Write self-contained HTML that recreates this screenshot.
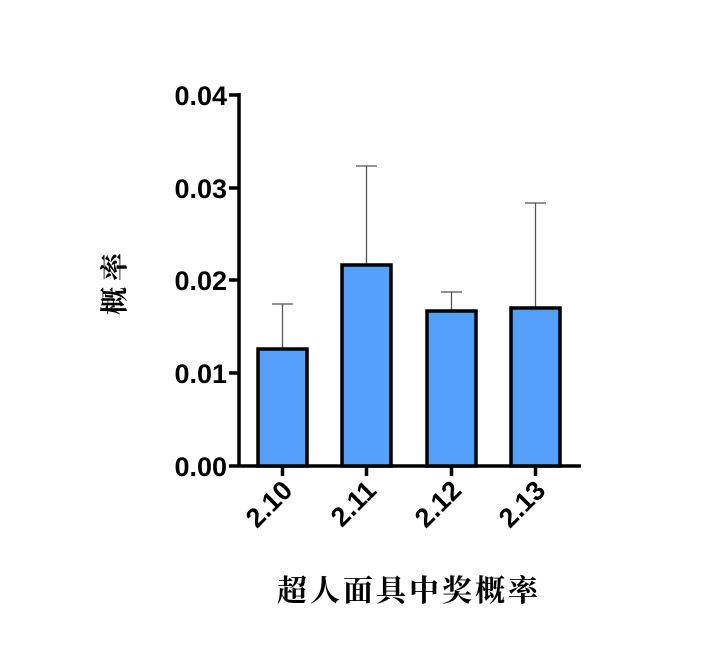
<!DOCTYPE html>
<html><head><meta charset="utf-8"><style>body{margin:0;background:#fff}</style></head>
<body>
<svg width="720" height="662" xmlns="http://www.w3.org/2000/svg">
<rect width="720" height="662" fill="#fff"/>
<g stroke="#000" stroke-width="3.5" fill="none">
<line x1="239" y1="93" x2="239" y2="467"/>
<line x1="229" y1="466" x2="581" y2="466"/>
<line x1="229" y1="95" x2="239" y2="95"/>
<line x1="229" y1="188" x2="239" y2="188"/>
<line x1="229" y1="280" x2="239" y2="280"/>
<line x1="229" y1="373" x2="239" y2="373"/>
<line x1="282.5" y1="466" x2="282.5" y2="476"/>
<line x1="366.5" y1="466" x2="366.5" y2="476"/>
<line x1="451.5" y1="466" x2="451.5" y2="476"/>
<line x1="535.5" y1="466" x2="535.5" y2="476"/>
</g>
<g stroke="#555" stroke-width="1.3">
<line x1="282.5" y1="349" x2="282.5" y2="304"/><line x1="272" y1="304" x2="293" y2="304"/>
<line x1="366.5" y1="265" x2="366.5" y2="166"/><line x1="356" y1="166" x2="377" y2="166"/>
<line x1="451.5" y1="311" x2="451.5" y2="292"/><line x1="441" y1="292" x2="462" y2="292"/>
<line x1="535.5" y1="308" x2="535.5" y2="203"/><line x1="525" y1="203" x2="546" y2="203"/>
</g>
<g fill="#539ffa" stroke="#000" stroke-width="3.5">
<rect x="258" y="349" width="49" height="117"/>
<rect x="342" y="265" width="49" height="201"/>
<rect x="427" y="311" width="49" height="155"/>
<rect x="511" y="308" width="49" height="158"/>
</g>
<g font-family="Liberation Sans, sans-serif" font-weight="bold" font-size="27" text-anchor="end">
<text x="227" y="105">0.04</text>
<text x="227" y="198">0.03</text>
<text x="227" y="290">0.02</text>
<text x="227" y="383">0.01</text>
<text x="227" y="476">0.00</text>
<text transform="translate(294,492) rotate(-45)">2.10</text>
<text transform="translate(378,492) rotate(-45)">2.11</text>
<text transform="translate(463,492) rotate(-45)">2.12</text>
<text transform="translate(547,492) rotate(-45)">2.13</text>
</g>
<text x="409" y="601" text-anchor="middle" font-family="Liberation Serif, 'Noto Serif CJK SC', serif" font-size="30" font-weight="bold" letter-spacing="3">超人面具中奖概率</text>
<text transform="translate(124,281) rotate(-90)" text-anchor="middle" font-family="Liberation Serif, 'Noto Serif CJK SC', serif" font-size="28" font-weight="bold" letter-spacing="6">概率</text>
</svg>
</body></html>
